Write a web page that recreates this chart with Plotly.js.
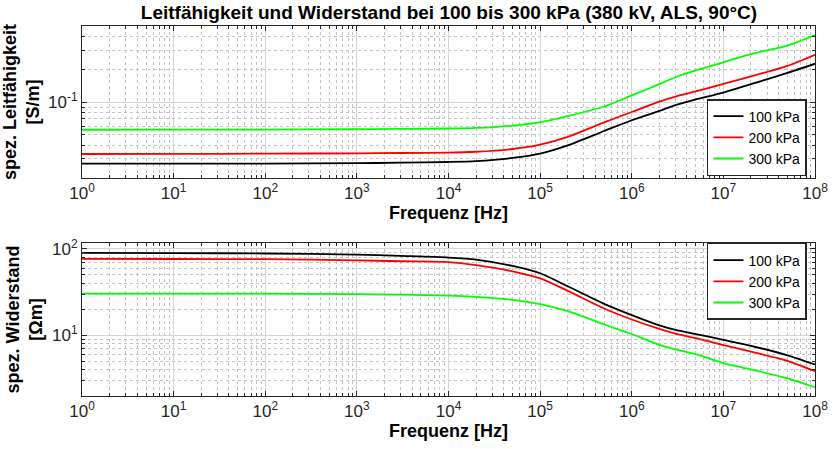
<!DOCTYPE html>
<html>
<head>
<meta charset="utf-8">
<script src="https://cdn.plot.ly/plotly-3.0.1.min.js"></script>
<style>html,body{margin:0;padding:0;background:#fff;}#chart{width:833px;height:449px;}</style>
</head>
<body>
<div id="chart"></div>
<script>
// Frequencies [Hz]
const freq = [1, 10, 100, 1e3, 3e3, 1e4, 2e4, 5e4, 1e5, 2e5, 5e5, 1e6, 2e6, 3e6, 5e6, 1e7, 2e7, 5e7, 1e8];

// Specific conductivity [S/m]
const sigma100 = [0.0271, 0.0271, 0.0272, 0.0274, 0.0277, 0.0281, 0.0286, 0.0306, 0.0336, 0.0400, 0.0542, 0.0680, 0.0828, 0.0935, 0.1060, 0.1220, 0.1460, 0.1850, 0.2250];
const sigma200 = [0.0333, 0.0334, 0.0335, 0.0338, 0.0340, 0.0342, 0.0349, 0.0370, 0.0405, 0.0478, 0.0650, 0.0810, 0.1007, 0.1120, 0.1250, 0.1470, 0.1720, 0.2150, 0.2720];
const sigma300 = [0.0556, 0.0557, 0.0558, 0.0562, 0.0566, 0.0571, 0.0578, 0.0607, 0.0654, 0.0742, 0.0910, 0.1150, 0.1460, 0.1690, 0.1950, 0.2320, 0.2760, 0.3300, 0.4120];

// Specific resistivity [Ohm m]
const rho100 = [90, 89.5, 88.5, 86, 83, 79.5, 75.3, 63.5, 52.3, 37.0, 23.2, 17.2, 13.1, 11.6, 10.4, 8.9, 7.6, 5.9, 4.62];
const rho200 = [76.7, 76.5, 76, 73.8, 72, 70.5, 65.0, 55.2, 45.6, 32.8, 20.5, 15.3, 11.9, 10.5, 9.3, 7.75, 6.5, 5.1, 3.87];
const rho300 = [30.5, 30.5, 30.4, 30.0, 29.6, 28.9, 27.9, 25.8, 23.0, 19.1, 13.4, 10.4, 7.8, 6.9, 6.1, 4.8, 4.05, 3.2, 2.53];

const seriesNames = ['100 kPa', '200 kPa', '300 kPa'];
const seriesColors = ['#000000', '#ff0000', '#00ff00'];

const xTickVals = [1, 10, 100, 1e3, 1e4, 1e5, 1e6, 1e7, 1e8];
const xTickText = ['10<sup>0</sup>', '10<sup>1</sup>', '10<sup>2</sup>', '10<sup>3</sup>', '10<sup>4</sup>', '10<sup>5</sup>', '10<sup>6</sup>', '10<sup>7</sup>', '10<sup>8</sup>'];
const y1TickVals = [0.1];
const y1TickText = ['10<sup>-1</sup>'];
const y2TickVals = [10, 100];
const y2TickText = ['10<sup>1</sup>', '10<sup>2</sup>'];

const titleText = 'Leitfähigkeit und Widerstand bei 100 bis 300 kPa (380 kV, ALS, 90°C)';
const xTitle = 'Frequenz [Hz]';
const y1Title = 'spez. Leitfähigkeit<br>[S/m]';
const y2Title = 'spez. Widerstand<br>[Ωm]';

const topData = [sigma100, sigma200, sigma300];
const botData = [rho100, rho200, rho300];

const traces = [];
topData.forEach((d, i) => traces.push({
  x: freq, y: d, type: 'scatter', mode: 'lines', name: seriesNames[i],
  line: {color: seriesColors[i], width: 1.8, shape: 'spline', smoothing: 0.7},
  xaxis: 'x', yaxis: 'y', legend: 'legend'
}));
botData.forEach((d, i) => traces.push({
  x: freq, y: d, type: 'scatter', mode: 'lines', name: seriesNames[i],
  line: {color: seriesColors[i], width: 1.8, shape: 'spline', smoothing: 0.7},
  xaxis: 'x2', yaxis: 'y2', legend: 'legend2'
}));

const axColor = '#262626';
const font = 'Liberation Sans, Arial, sans-serif';
function baseAxis(extra) {
  return Object.assign({
    type: 'log', showline: true, linecolor: axColor, linewidth: 1, mirror: 'allticks',
    ticks: 'inside', ticklen: 5, tickcolor: axColor,
    showgrid: true, gridcolor: '#d4d4d4', gridwidth: 1, zeroline: false,
    tickfont: {family: font, size: 17, color: axColor},
    minor: {ticks: 'inside', ticklen: 3, tickcolor: axColor, dtick: 'D1', showgrid: true, gridcolor: '#c4c4c4', griddash: 'dot', gridwidth: 1}
  }, extra);
}
const titleFont = {family: font, size: 18, color: '#000'};

const legendBase = {xanchor: 'right', yanchor: 'middle', bgcolor: '#fff', bordercolor: axColor, borderwidth: 1.5,
  font: {family: font, size: 14, color: '#000'}, tracegroupgap: 0, itemwidth: 30};

const layout = {
  width: 833, height: 449,
  margin: {l: 82, r: 18, t: 26, b: 53},
  paper_bgcolor: '#fff', plot_bgcolor: '#fff',
  title: {text: '<b>' + titleText + '</b>', font: {family: font, size: 19, color: '#000'}, x: 0.539, xanchor: 'center', y: 0.973, yanchor: 'middle'},
  xaxis: baseAxis({domain: [0, 1], anchor: 'y', range: [0, 8], tickvals: xTickVals, ticktext: xTickText,
    title: {text: '<b>' + xTitle + '</b>', font: titleFont, standoff: 3}}),
  yaxis: baseAxis({domain: [0.589, 1], anchor: 'x', range: [Math.log10(0.02), Math.log10(0.5)], tickvals: y1TickVals, ticktext: y1TickText,
    title: {text: '<b>' + y1Title + '</b>', font: titleFont, standoff: 4}}),
  xaxis2: baseAxis({domain: [0, 1], anchor: 'y2', range: [0, 8], tickvals: xTickVals, ticktext: xTickText,
    title: {text: '<b>' + xTitle + '</b>', font: titleFont, standoff: 3}}),
  yaxis2: baseAxis({domain: [0, 0.4135], anchor: 'x2', range: [Math.log10(2), Math.log10(117)], tickvals: y2TickVals, ticktext: y2TickText,
    title: {text: '<b>' + y2Title + '</b>', font: titleFont, standoff: 4}}),
  legend: Object.assign({x: 0.989, y: 0.6986}, legendBase),
  legend2: Object.assign({x: 0.989, y: 0.3095}, legendBase),
  showlegend: true
};

Plotly.newPlot('chart', traces, layout, {staticPlot: true, displayModeBar: false});
</script>
</body>
</html>
